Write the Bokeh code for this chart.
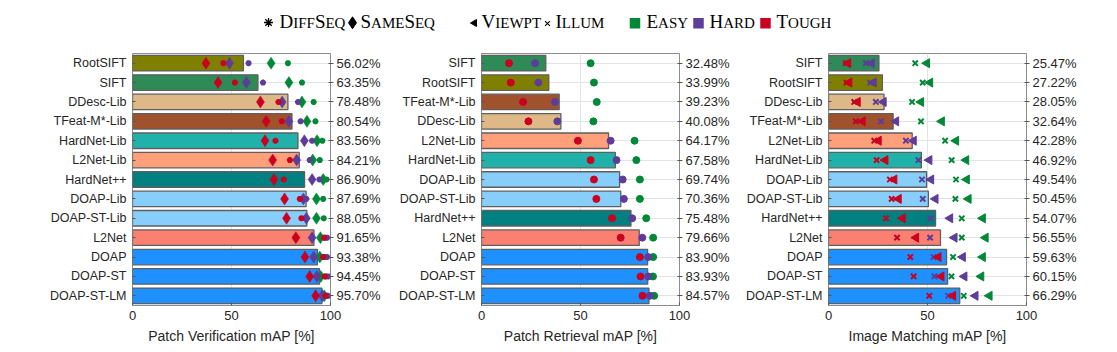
from bokeh.plotting import figure
from bokeh.models import Range1d, FixedTicker, LinearAxis, ColumnDataSource
from bokeh.layouts import column, row
from bokeh.embed import file_html
from bokeh.resources import INLINE
from bokeh.core.properties import value
import math

# ---------------- data ----------------
ver_methods = ["RootSIFT", "SIFT", "DDesc-Lib", "TFeat-M*-Lib", "HardNet-Lib", "L2Net-Lib",
               "HardNet++", "DOAP-Lib", "DOAP-ST-Lib", "L2Net", "DOAP", "DOAP-ST", "DOAP-ST-LM"]
ver_map = [56.02, 63.35, 78.48, 80.54, 83.56, 84.21, 86.90, 87.69, 88.05, 91.65, 93.38, 94.45, 95.70]
ver_easy_same = [70.0, 79.0, 85.6, 88.1, 93.2, 91.0, 96.3, 92.9, 92.9, 94.9, 94.6, 95.1, 96.8]
ver_easy_diff = [78.5, 85.6, 91.5, 92.4, 95.9, 94.6, 98.0, 96.3, 96.6, 97.1, 97.1, 97.6, 98.1]
ver_hard_same = [49.0, 57.5, 75.6, 79.0, 86.8, 82.9, 90.7, 86.3, 87.8, 90.7, 91.5, 93.1, 95.8]
ver_hard_diff = [58.6, 65.9, 83.6, 84.9, 90.7, 89.5, 94.4, 87.8, 87.1, 98.3, 98.3, 98.8, 98.8]
ver_tough_same = [37.1, 43.2, 64.6, 67.5, 66.9, 70.8, 71.4, 76.8, 77.8, 82.5, 87.1, 89.5, 92.5]
ver_tough_diff = [45.9, 51.7, 73.7, 75.4, 72.2, 79.5, 76.4, 84.5, 85.3, 96.8, 96.3, 97.1, 97.5]

ret_methods = ["SIFT", "RootSIFT", "TFeat-M*-Lib", "DDesc-Lib", "L2Net-Lib", "HardNet-Lib",
               "DOAP-Lib", "DOAP-ST-Lib", "HardNet++", "L2Net", "DOAP", "DOAP-ST", "DOAP-ST-LM"]
ret_map = [32.48, 33.99, 39.23, 40.08, 64.17, 67.58, 69.74, 70.36, 75.48, 79.66, 83.90, 83.93, 84.57]
ret_easy = [55.1, 56.8, 58.2, 56.5, 77.3, 78.2, 80.0, 80.0, 83.2, 86.7, 86.7, 86.6, 87.2]
ret_hard = [27.1, 28.7, 37.1, 38.3, 65.2, 68.2, 71.3, 71.9, 76.1, 81.2, 84.2, 84.2, 85.0]
ret_tough = [13.9, 14.8, 21.0, 23.7, 48.7, 55.1, 56.8, 58.0, 65.9, 70.3, 80.0, 80.3, 81.3]

mat_methods = ["SIFT", "RootSIFT", "DDesc-Lib", "TFeat-M*-Lib", "L2Net-Lib", "HardNet-Lib",
               "DOAP-Lib", "DOAP-ST-Lib", "HardNet++", "L2Net", "DOAP", "DOAP-ST", "DOAP-ST-LM"]
mat_map = [25.47, 27.22, 28.05, 32.64, 42.28, 46.92, 49.54, 50.45, 54.07, 56.55, 59.63, 60.15, 66.29]
mat_easy_view = [49.7, 51.3, 46.7, 57.2, 64.4, 69.5, 69.8, 70.7, 77.9, 79.3, 77.9, 77.1, 81.3]
mat_easy_illum = [43.8, 47.6, 42.2, 46.7, 58.9, 62.2, 64.4, 64.1, 67.3, 67.3, 62.9, 62.1, 68.3]
mat_hard_view = [21.8, 22.8, 27.8, 34.1, 43.0, 50.9, 51.8, 54.0, 61.4, 63.6, 67.8, 68.6, 74.2]
mat_hard_illum = [18.9, 21.1, 23.9, 26.5, 39.1, 45.4, 47.2, 47.6, 51.4, 51.3, 53.0, 53.5, 60.5]
mat_tough_view = [9.9, 10.5, 14.7, 17.2, 25.3, 28.7, 33.2, 35.4, 37.4, 44.2, 55.5, 57.0, 62.9]
mat_tough_illum = [8.8, 9.1, 13.0, 13.8, 23.1, 24.3, 31.0, 31.9, 29.0, 34.6, 41.3, 43.0, 50.9]

x_ticks = [0, 50, 100]
x_titles = ["Patch Verification mAP [%]", "Patch Retrieval mAP [%]", "Image Matching mAP [%]"]
legend_words = ["DiffSeq", "SameSeq", "Viewpt", "Illum", "Easy", "Hard", "Tough"]

# ---------------- style ----------------
method_colors = {
    "RootSIFT": "#808000", "SIFT": "#2e8b57", "DDesc-Lib": "#deb887", "TFeat-M*-Lib": "#a0522d",
    "HardNet-Lib": "#20b2aa", "L2Net-Lib": "#ffa07a", "HardNet++": "#008080",
    "DOAP-Lib": "#87cefa", "DOAP-ST-Lib": "#87cefa", "L2Net": "#fa8072",
    "DOAP": "#1e90ff", "DOAP-ST": "#1e90ff", "DOAP-ST-LM": "#1e90ff",
}
GREEN, PURPLE, RED = "#008837", "#5e3c99", "#ca0020"
TXT = "#262626"
SANS = "Liberation Sans"
SERIF = "Liberation Serif"
LEG_H = 48


def make_panel(methods, maps, xlabel, left_b, right_b):
    p = figure(frame_width=198, frame_height=252, min_border_left=left_b, min_border_right=right_b,
               min_border_top=5, min_border_bottom=40, x_range=Range1d(0, 100),
               y_range=Range1d(len(methods) - 0.5, -0.5), output_backend="svg",
               toolbar_location=None, background_fill_color="white", border_fill_color="white")
    idx = list(range(len(methods)))
    p.outline_line_color = "#8c8c8c"
    p.outline_line_width = 1
    p.xgrid.ticker = FixedTicker(ticks=x_ticks)
    p.ygrid.ticker = FixedTicker(ticks=idx)
    p.grid.grid_line_color = "#e3e3e3"
    p.grid.grid_line_width = 1
    xa = p.xaxis[0]
    xa.ticker = FixedTicker(ticks=x_ticks)
    xa.axis_line_color = None
    xa.major_tick_in = 3
    xa.major_tick_out = 0
    xa.major_tick_line_color = "#555555"
    xa.minor_tick_line_color = None
    xa.major_label_text_font = SANS
    xa.major_label_text_font_size = "13px"
    xa.major_label_text_color = TXT
    xa.major_label_standoff = 5
    xa.axis_label = xlabel
    xa.axis_label_text_font = SANS
    xa.axis_label_text_font_size = "14px"
    xa.axis_label_text_font_style = "normal"
    xa.axis_label_text_color = TXT
    xa.axis_label_standoff = 5
    ya = p.yaxis[0]
    ya.ticker = FixedTicker(ticks=idx)
    ya.major_label_overrides = {i: m for i, m in zip(idx, methods)}
    ya.axis_line_color = None
    ya.major_tick_in = 3
    ya.major_tick_out = 0
    ya.major_tick_line_color = "#555555"
    ya.minor_tick_line_color = None
    ya.major_label_text_font = SANS
    ya.major_label_text_font_size = "12.5px"
    ya.major_label_text_color = TXT
    ya.major_label_standoff = 6
    ra = LinearAxis(ticker=FixedTicker(ticks=idx),
                    major_label_overrides={i: f"{v:.2f}%" for i, v in zip(idx, maps)},
                    axis_line_color=None, major_tick_in=2, major_tick_out=3,
                    major_tick_line_color="#555555", minor_tick_line_color=None,
                    major_label_text_font=SANS, major_label_text_font_size="13px",
                    major_label_text_color=TXT, major_label_standoff=3)
    p.add_layout(ra, "right")
    src = ColumnDataSource(dict(y=idx, right=maps, color=[method_colors[m] for m in methods]))
    p.hbar(y="y", left=0, right="right", height=0.8, fill_color="color", line_color="#5f5f5f",
           line_width=1.3, source=src)
    return p, idx


# ---------- panel 1 ----------
p1, i1 = make_panel(ver_methods, ver_map, x_titles[0], 132, 59)
for same, diff, col in [(ver_easy_same, ver_easy_diff, GREEN), (ver_hard_same, ver_hard_diff, PURPLE),
                        (ver_tough_same, ver_tough_diff, RED)]:
    p1.scatter(x=same, y=i1, marker="diamond", size=12, fill_color=col, line_color=col, line_width=0.5)
    p1.scatter(x=diff, y=i1, marker="asterisk", size=6, line_color=col, line_width=2)

# ---------- panel 2 ----------
p2, i2 = make_panel(ret_methods, ret_map, x_titles[1], 92, 59)
for vals, col in [(ret_easy, GREEN), (ret_hard, PURPLE), (ret_tough, RED)]:
    p2.scatter(x=vals, y=i2, marker="circle", size=7, fill_color=col, line_color=col)

# ---------- panel 3 ----------
p3, i3 = make_panel(mat_methods, mat_map, x_titles[2], 90, 70)
for view, illum, col in [(mat_easy_view, mat_easy_illum, GREEN), (mat_hard_view, mat_hard_illum, PURPLE),
                         (mat_tough_view, mat_tough_illum, RED)]:
    p3.scatter(x=illum, y=i3, marker="x", size=7.5, line_color=col, line_width=2)
    p3.scatter(x=view, y=i3, marker="triangle", angle=math.pi / 2, size=9, fill_color=col,
               line_color=col)

# ---------- legend ----------
leg = figure(frame_width=1109, frame_height=LEG_H, min_border=0, x_range=Range1d(0, 1109),
             y_range=Range1d(LEG_H, 0), x_axis_type=None, y_axis_type=None, output_backend="svg",
             toolbar_location=None, outline_line_color=None)
leg.grid.visible = False

adv = {"A": .722, "C": .667, "D": .722, "E": .611, "F": .556, "G": .722, "H": .722, "I": .333,
       "L": .611, "M": .889, "O": .722, "P": .556, "Q": .722, "R": .667, "S": .556, "T": .611,
       "U": .722, "V": .722, "W": .944, "Y": .722}
BIG, SMALL = 19, 15
BASE = 27.7
KOFF = 0.367


def small_caps(word, x0):
    xs, ys, ts, fs = [], [], [], []
    x = x0
    seg, seg_big = "", None

    def flush(seg, big, x):
        size = BIG if big else SMALL
        xs.append(x); ys.append(BASE - KOFF * size); ts.append(seg); fs.append(f"{size}px")
        return x + sum(adv[c] for c in seg) * size

    for ch in word:
        is_big = ch.isupper()
        if seg and is_big != seg_big:
            x = flush(seg, seg_big, x)
            seg = ""
        seg += ch.upper()
        seg_big = is_big
    flush(seg, seg_big, x)
    return xs, ys, ts, fs


word_x = [279, 360, 481, 555, 646, 709, 776]
LX, LY, LT, LF = [], [], [], []
for w, x0 in zip(legend_words, word_x):
    xs, ys, ts, fs = small_caps(w, x0)
    LX += xs; LY += ys; LT += ts; LF += fs
leg.text(x=LX, y=LY, text=LT, text_font_size=LF, text_font=value(SERIF),
         text_color="black", text_baseline="alphabetic", text_align="left")

leg.scatter(x=[268], y=[22.0], marker="asterisk", size=9, line_color="black", line_width=1.3)
leg.scatter(x=[352], y=[22.3], marker="diamond", size=12, fill_color="black", line_color="black")
leg.scatter(x=[474], y=[22.5], marker="triangle", angle=math.pi / 2, size=7,
            fill_color="black", line_color="black")
leg.scatter(x=[547], y=[23.0], marker="x", size=7, line_color="black", line_width=1.1)
leg.scatter(x=[634.5, 698, 765], y=[22.7] * 3, marker="square", size=10.5,
            fill_color=[GREEN, PURPLE, RED], line_color=None)

layout = column(leg, row(p1, p2, p3))
open("out.html", "w").write(file_html(layout, INLINE))
